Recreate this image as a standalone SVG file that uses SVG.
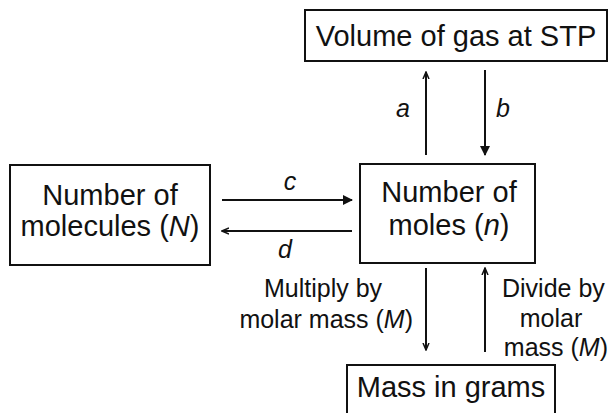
<svg xmlns="http://www.w3.org/2000/svg" width="611" height="413" viewBox="0 0 611 413">
<defs>
<style>
.box{fill:#fff;stroke:#111;stroke-width:2}
.t{font-family:"Liberation Sans",Arial,sans-serif;font-size:29px;fill:#111}
.s{font-family:"Liberation Sans",Arial,sans-serif;font-size:25px;fill:#111}
.l{font-family:"Liberation Sans",Arial,sans-serif;font-size:25px;font-style:italic;fill:#111}
.c{stroke:#111;stroke-width:2;fill:none}
</style>
<marker id="big" markerWidth="10" markerHeight="10" refX="9" refY="5" orient="auto" markerUnits="userSpaceOnUse" viewBox="0 0 10 10">
<path d="M0,0 L10,5 L0,10 Z" fill="#111"/>
</marker>
<marker id="small" markerWidth="8" markerHeight="8" refX="7" refY="4" orient="auto" markerUnits="userSpaceOnUse" viewBox="0 0 8 8">
<path d="M0,1 L7,4 L0,7" fill="none" stroke="#111" stroke-width="1.5"/>
</marker>
</defs>
<rect width="611" height="413" fill="#fff"/>
<g id="volume">
<rect class="box" x="305" y="10" width="302" height="51"/>
<text class="t" x="456" y="46" text-anchor="middle">Volume of gas at STP</text>
</g>
<g id="molecules">
<rect class="box" x="10" y="165" width="200" height="100"/>
<text class="t" x="110" y="205" text-anchor="middle">Number of</text>
<text class="t" x="110" y="236" text-anchor="middle">molecules (<tspan font-style="italic">N</tspan>)</text>
</g>
<g id="moles">
<rect class="box" x="360" y="164" width="175" height="99"/>
<text class="t" x="449" y="202" text-anchor="middle">Number of</text>
<text class="t" x="449" y="235" text-anchor="middle">moles (<tspan font-style="italic">n</tspan>)</text>
</g>
<g id="mass">
<rect class="box" x="347" y="365" width="208" height="60"/>
<text class="t" x="451" y="397" text-anchor="middle">Mass in grams</text>
</g>
<g id="connectors">
<line class="c" x1="426" y1="155" x2="426" y2="72" marker-end="url(#small)"/>
<line class="c" x1="485" y1="70" x2="485" y2="155" marker-end="url(#big)"/>
<line class="c" x1="222" y1="200" x2="352" y2="200" marker-end="url(#big)"/>
<line class="c" x1="352" y1="231" x2="222" y2="231" marker-end="url(#small)"/>
<line class="c" x1="426" y1="268" x2="426" y2="350" marker-end="url(#small)"/>
<line class="c" x1="485" y1="352" x2="485" y2="268" marker-end="url(#small)"/>
<text class="l" x="403" y="117" text-anchor="middle">a</text>
<text class="l" x="503" y="117" text-anchor="middle">b</text>
<text class="l" x="290" y="190" text-anchor="middle">c</text>
<text class="l" x="285" y="258" text-anchor="middle">d</text>
<text class="s" x="323" y="297" text-anchor="middle">Multiply by</text>
<text class="s" x="413" y="328" text-anchor="end">molar mass (<tspan font-style="italic">M</tspan>)</text>
<text class="s" x="502" y="297">Divide by</text>
<text class="s" x="551" y="327" text-anchor="middle">molar</text>
<text class="s" x="608" y="356" text-anchor="end">mass (<tspan font-style="italic">M</tspan>)</text>
</g>
</svg>
